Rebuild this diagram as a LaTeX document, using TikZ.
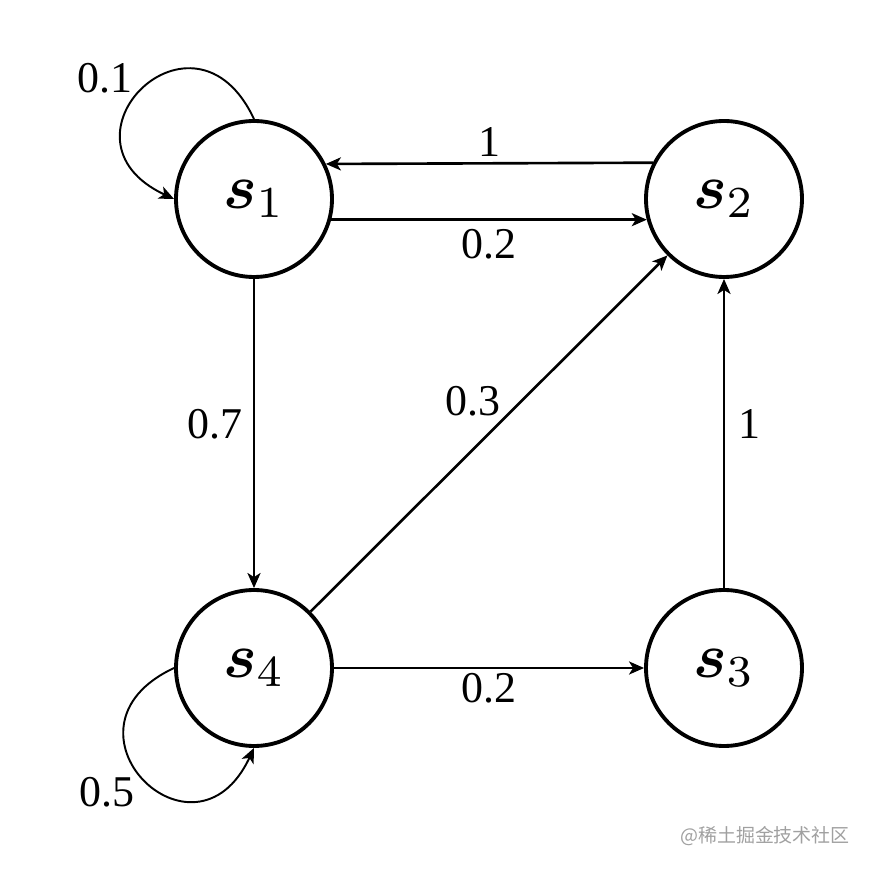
\documentclass[tikz,border=0pt]{standalone}
\usepackage{amsmath}
\usepackage{graphicx}
\usepackage[no-math]{fontspec}
\setmainfont{Liberation Serif}
\newfontfamily\cjk{Noto Sans CJK SC}
\usetikzlibrary{arrows.meta}
\definecolor{wmgray}{RGB}{160,160,160}

\newcommand{\stname}[1]{\scalebox{3.6}{$\boldsymbol{s}_{#1}$}}

\tikzset{
    state/.style={circle, draw, line width=2.2pt, minimum size=3.12cm, inner sep=0pt},
    trans/.style={-{Stealth[length=0.3cm, width=0.26cm, inset=0.08cm]}, line width=1.5pt},
    selfloop/.style={trans, line width=1.1pt, looseness=3.2},
    prob/.style={font=\fontsize{25}{30}\selectfont, inner sep=0pt}
}

\begin{document}
\begin{tikzpicture}
    \useasboundingbox (0,0) rectangle (17.38,17.40);

    % States
    \node[state] (s1) at (5.08,13.42) {\stname{1}};
    \node[state] (s2) at (14.48,13.42) {\stname{2}};
    \node[state] (s3) at (14.48,4.04) {\stname{3}};
    \node[state] (s4) at (5.08,4.04) {\stname{4}};

    % Transitions between states
    \draw[trans] (s2.153.3) -- node[prob, above=0.12cm] (p21) {1} (s1.26.7);
    \draw[trans] (s1.-15.6) -- node[prob, below=0.16cm] (p12) {0.2} (s2.195.6);
    \draw[trans] (s1) -- node[prob, pos=0.47, left=0.2cm] (p14) {0.7} (s4);
    \draw[trans] (s4) -- node[prob, pos=0.54, anchor=south east, inner sep=1pt] (p42) {0.3} (s2);
    \draw[trans] (s4) -- node[prob, below=0.08cm] (p43) {0.2} (s3);
    \draw[trans] (s3) -- node[prob, pos=0.53, right=0.27cm] (p32) {1} (s2);

    % Self loops
    \draw[selfloop] (s1.90) to[out=115, in=155] (s1.180);
    \node[prob] (p11) at ([shift={(-2.98,2.42)}]s1.center) {0.1};
    \draw[selfloop] (s4.180) to[out=205, in=245] (s4.270);
    \node[prob] (p44) at ([shift={(-2.94,-2.48)}]s4.center) {0.5};

    % Watermark
    \node[font=\cjk\fontsize{10.8}{13}\selectfont, text=wmgray] (wm) at (15.3,0.68) {@稀土掘金技术社区};
\end{tikzpicture}
\end{document}
